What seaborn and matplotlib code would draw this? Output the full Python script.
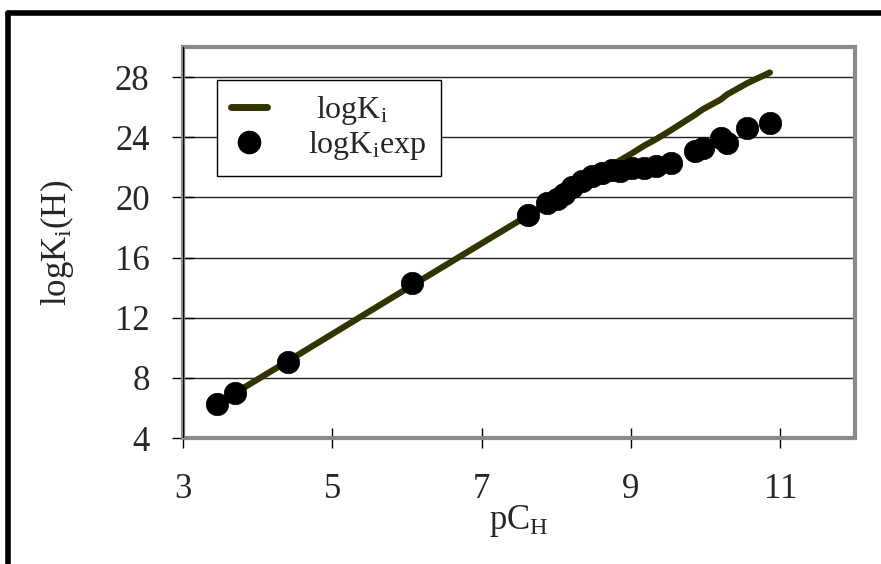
import matplotlib
matplotlib.use("Agg")
import matplotlib.pyplot as plt
import seaborn as sns
import pandas as pd
from matplotlib.lines import Line2D

# Experimental points
pch_exp = [3.46, 3.70, 4.40, 6.07, 7.62, 7.87, 8.01, 8.10, 8.21, 8.34, 8.48, 8.61,
           8.75, 8.85, 9.02, 9.18, 9.33, 9.53, 9.86, 9.96, 10.20, 10.29, 10.56, 10.86]
logk_exp = [6.27, 7.01, 9.08, 14.3, 18.85, 19.65, 19.92, 20.25, 20.72, 21.06, 21.39, 21.59,
            21.79, 21.73, 21.93, 21.93, 22.06, 22.26, 23.06, 23.26, 23.93, 23.60, 24.60, 24.94]

# Calculated curve
pch_calc = [3.70, 4.40, 6.07, 7.62, 7.87, 8.01, 8.10, 8.21, 8.34, 8.48, 8.61, 8.75,
            8.85, 9.02, 9.18, 9.33, 9.53, 9.86, 9.96, 10.20, 10.29, 10.56, 10.86]
logk_calc = [7.0, 9.1, 14.15, 18.8, 19.5, 19.95, 20.2, 20.55, 20.9, 21.35, 21.75, 22.15,
             22.45, 22.95, 23.45, 23.85, 24.45, 25.5, 25.85, 26.5, 26.85, 27.6, 28.3]

x_ticks = [3, 5, 7, 9, 11]
y_ticks = [4, 8, 12, 16, 20, 24, 28]

sns.set_theme(style="white")
plt.rcParams["font.family"] = ["Liberation Serif", "DejaVu Serif"]
plt.rcParams["mathtext.fontset"] = "custom"
plt.rcParams["mathtext.rm"] = "Liberation Serif"
plt.rcParams["mathtext.it"] = "Liberation Serif"

fig = plt.figure(figsize=(8.81, 5.64), dpi=100)
ax = fig.add_axes([0.2077, 0.2234, 0.7628, 0.6933])

df_calc = pd.DataFrame({"pCH": pch_calc, "logK": logk_calc})
df_exp = pd.DataFrame({"pCH": pch_exp, "logK": logk_exp})

ax.set_axisbelow(True)
for yv in y_ticks[1:]:
    ax.axhline(yv, color="#222222", lw=1.0, zorder=0)

sns.lineplot(data=df_calc, x="pCH", y="logK", ax=ax, color="#333300", lw=4.5,
             sort=False, zorder=2, label=None)
sns.scatterplot(data=df_exp, x="pCH", y="logK", ax=ax, color="black", s=260,
                edgecolor="black", linewidth=0.5, zorder=3, label=None)

ax.set_xlim(3, 12)
ax.set_ylim(4, 30)
ax.set_xticks(x_ticks)
ax.set_yticks(y_ticks)
ax.tick_params(axis="x", direction="inout", length=14, width=1, color="black",
               labelsize=25, pad=18, bottom=True)
ax.tick_params(axis="y", direction="inout", length=16, width=1, color="black",
               labelsize=25, pad=16, left=True)

for side in ["top", "right", "bottom", "left"]:
    ax.spines[side].set_color("#8a8a8a")
    ax.spines[side].set_linewidth(3)
ax.axvline(3, color="black", lw=1, zorder=4)

ax.set_xlabel(r"pC$_\mathregular{H}$", fontsize=25, labelpad=-2)
ax.set_ylabel(r"logK$_\mathregular{i}$(H)", fontsize=25, labelpad=28)

handles = [
    Line2D([], [], color="#333300", lw=5),
    Line2D([], [], marker="o", color="black", ls="none", markersize=16),
]
labels = [r" logK$_\mathregular{i}$", r"logK$_\mathregular{i}$exp"]
leg = ax.legend(handles, labels, loc="upper left", bbox_to_anchor=(0.0506, 0.9156),
                borderaxespad=0, fontsize=23, frameon=True, fancybox=False,
                edgecolor="black", framealpha=1, handlelength=1.1, handletextpad=1.3,
                labelspacing=0.05, borderpad=0.45)
leg.get_frame().set_linewidth(1)

# outer frame of the figure
fig.add_artist(Line2D([0.009, 0.009], [0.0, 0.977], color="black", lw=4,
                      transform=fig.transFigure))
fig.add_artist(Line2D([0.009, 1.0], [0.977, 0.977], color="black", lw=4,
                      transform=fig.transFigure))

fig.savefig("out.png", dpi=100)
